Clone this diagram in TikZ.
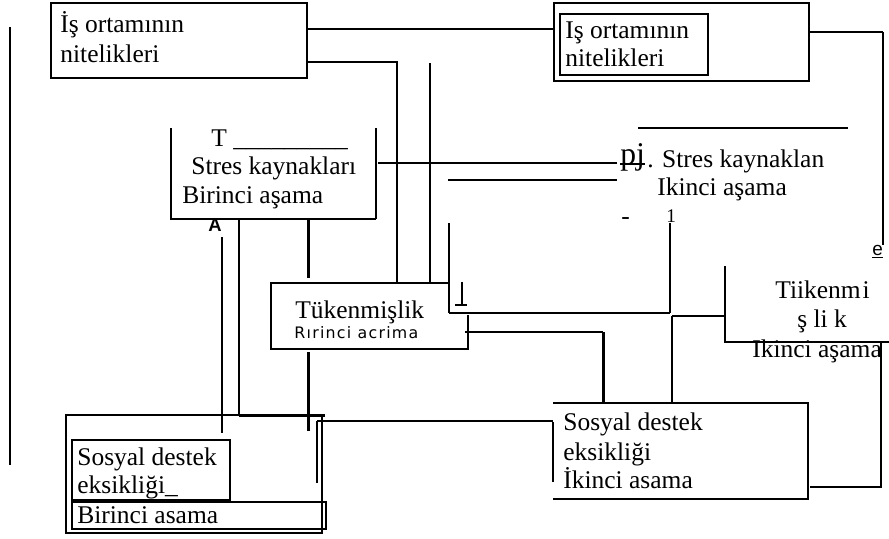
\documentclass[tikz,border=0pt]{standalone}
\usepackage{fontspec}
\setmainfont{Liberation Serif}
\newfontfamily\lblsans{Liberation Sans}
\newfontfamily\spacedsans[LetterSpace=8]{DejaVu Sans}
\usetikzlibrary{fit}

\tikzset{
  txt/.style={anchor=base west, inner sep=0pt, font=\fontsize{14.5}{16.5}\selectfont},
  thinline/.style={line width=0.026cm},
  medline/.style={line width=0.04cm},
  heavyline/.style={line width=0.06cm},
  boxfit/.style={draw, inner sep=0pt, thinline},
}

\begin{document}
\begin{tikzpicture}[x=0.02cm, y=-0.02cm]
            \useasboundingbox (0,0) rectangle (889,538);

            % Drawing box ortam A
            \node [boxfit, line width=0.03cm, fit={(51,3) (307,78)}] (ortamA) {};%
            \node [txt] (ortamAa) at (60,32) {İş ortamının};%
            \node [txt] (ortamAb) at (60,62) {nitelikleri};%

            % Drawing box ortam B
            \node [boxfit, medline, fit={(554,3) (809,81)}] (ortamB) {};%
            \node [boxfit, fit={(560,14) (708,75)}] (ortamBin) {};%
            \node [txt] (ortamBa) at (565,38) {Iş ortamının};%
            \node [txt] (ortamBb) at (565,66) {nitelikleri};%

            % Drawing stres A
            \draw [thinline] (171,128) -- (171,219) -- (376,219);%
            \draw [medline] (376,128) -- (376,219);%
            \node [txt] (stresAt) at (211,146) {T \_\_\_\_\_\_\_\_\_};%
            \node [txt] (stresAa) at (191,174) {Stres kaynakları};%
            \node [txt] (stresAb) at (182,203) {Birinci aşama};%
            \node [txt, font=\lblsans\bfseries\fontsize{10.5}{12}\selectfont] (markA) at (208,231) {A};%

            % Drawing stres B
            \draw [thinline] (638,128) -- (848,128);%
            \node [txt, font=\fontsize{18}{20}\selectfont] (markpj) at (620,164) {pj};%
            \draw [medline] (620,164) -- (645,164);%
            \node [txt] (stresBa) at (647,167) {. Stres kaynaklan};%
            \node [txt] (stresBb) at (657,195) {Ikinci aşama};%
            \node [txt] (markdash) at (621,224) {-};%
            \node [txt, font=\fontsize{11}{12}\selectfont] (markone) at (666,222) {1};%

            % Drawing tukenmislik A
            \draw [thinline] (449,283) -- (271,283) -- (271,349) -- (468,349) -- (468,315);%
            \node [txt] (tukAa) at (295,318) {Tükenmişlik};%
            \node [txt, font=\spacedsans\fontsize{9}{11}\selectfont] (tukAb) at (294,338) {Rırinci acrima};%
            \draw [thinline] (449,223) -- (449,313);%
            \draw [medline] (449,313) -- (670,313);%
            \draw [thinline] (670,223) -- (670,313);%
            \draw [thinline] (462,282) -- (462,305);%
            \draw [medline] (455,305) -- (467,305);%

            % Drawing tukenmislik B
            \draw [thinline] (725,266) -- (725,342) -- (889,342);%
            \node [txt] (tukBa) at (775,298) {Tiikenm\kern1pt i};%
            \node [txt] (tukBb) at (797,327) {ş li k};%
            \node [txt] (tukBc) at (752,357) {Ikinci aşama};%
            \node [txt, font=\lblsans\fontsize{10.8}{12}\selectfont] (marke) at (872,255) {\underline{e}};%

            % Drawing sosyal destek B
            \draw [thinline] (553,422) -- (553,482);%
            \draw [thinline] (553,403) -- (808,403) -- (808,499) -- (553,499);%
            \node [txt] (sosBa) at (563,430) {Sosyal destek};%
            \node [txt] (sosBb) at (563,460) {eksikliği};%
            \node [txt] (sosBc) at (563,488) {İkinci asama};%

            % Drawing sosyal destek A
            \node [boxfit, line width=0.03cm, fit={(66,415) (322,533)}] (sosA) {};%
            \node [boxfit, fit={(72,440) (230,500)}] (sosAin) {};%
            \node [boxfit, fit={(72,502) (326,529)}] (sosAlow) {};%
            \node [txt] (sosAa) at (77,465) {Sosyal destek};%
            \node [txt] (sosAb) at (77,493) {eksikliği\_};%
            \node [txt] (sosAc) at (77,523) {Birinci asama};%

            % Drawing connectors
            \draw [thinline] (10,27) -- (10,465);%
            \draw [medline] (ortamA.east |- 0,29) -- (ortamB.west |- 0,29);%
            \draw [thinline] (ortamA.east |- 0,62) -- (397,62) -- (397,283);%
            \draw [thinline] (430,63) -- (430,283);%
            \draw [medline] (378,163) -- (617,163);%
            \draw [thinline] (448,180) -- (617,180);%
            \draw [thinline] (ortamB.east |- 0,32) -- (883,32);%
            \draw [medline] (883,32) -- (883,245);%
            \draw [thinline] (465,332) -- (603,332);%
            \draw [heavyline] (603,332) -- (603,402);%
            \draw [medline] (672,316) -- (725,316);%
            \draw [thinline] (672,316) -- (672,403);%
            \draw [thinline] (881,342) -- (881,487) -- (810,487);%
            \draw [medline] (317,421) -- (553,421);%
            \draw [thinline] (317,421) -- (317,483);%
            \draw [thinline] (222,237) -- (222,433);%
            \draw [medline] (239,219) -- (239,415);%
            \draw [heavyline] (239,415) -- (325,415);%
            \draw [heavyline] (308,219) -- (308,278);%
            \draw [heavyline] (308,352) -- (308,431);%
\end{tikzpicture}
\end{document}
